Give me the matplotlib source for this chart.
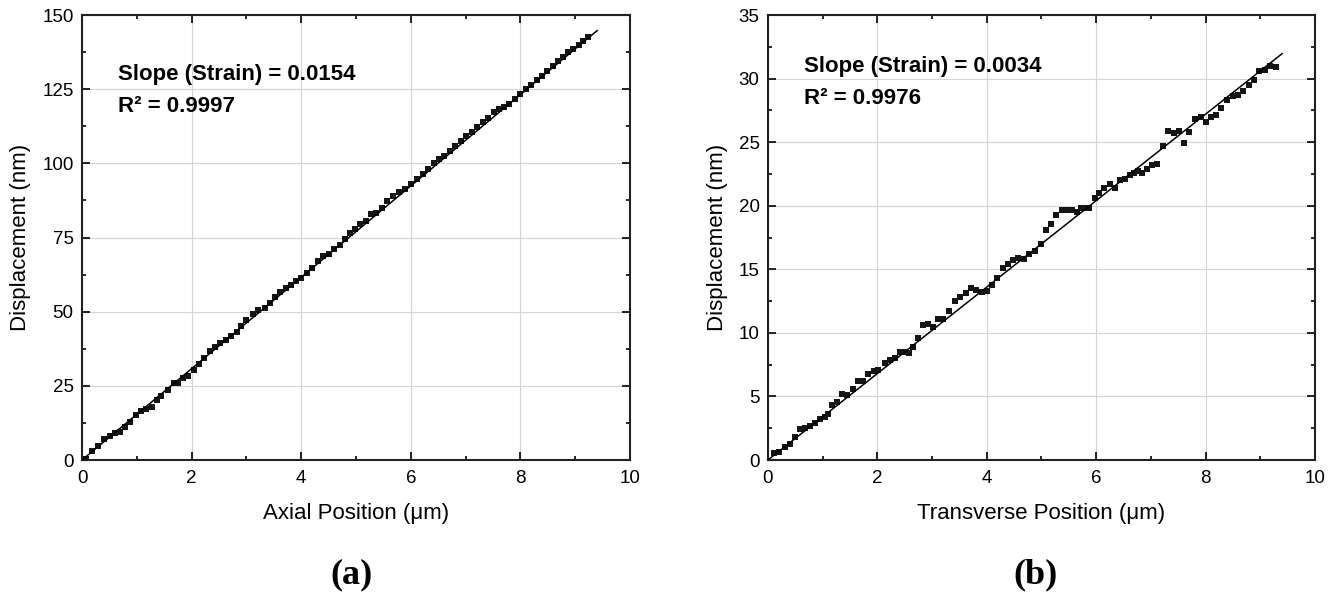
import matplotlib.pyplot as plt
from matplotlib.ticker import MultipleLocator

plt.rcParams['font.family'] = ['Liberation Sans', 'DejaVu Sans']

# (a) axial data
axial_x = [0.07, 0.19, 0.30, 0.41, 0.51, 0.60, 0.69, 0.79, 0.88, 0.99,
           1.08, 1.17, 1.27, 1.36, 1.45, 1.56, 1.67, 1.76, 1.85, 1.94,
           2.05, 2.14, 2.23, 2.34, 2.43, 2.52, 2.62, 2.72, 2.82, 2.91,
           3.00, 3.12, 3.22, 3.33, 3.43, 3.52, 3.61, 3.72, 3.81, 3.91,
           4.00, 4.10, 4.20, 4.30, 4.40, 4.50, 4.59, 4.70, 4.80, 4.89,
           4.98, 5.07, 5.18, 5.27, 5.36, 5.47, 5.57, 5.68, 5.79, 5.90,
           6.00, 6.11, 6.23, 6.32, 6.43, 6.52, 6.61, 6.72, 6.81, 6.91,
           7.01, 7.11, 7.20, 7.31, 7.40, 7.51, 7.61, 7.70, 7.80, 7.90,
           8.00, 8.10, 8.19, 8.30, 8.40, 8.49, 8.59, 8.69, 8.78, 8.87,
           8.96, 9.06, 9.15, 9.24]
axial_y = [0.5, 2.9, 4.8, 7.0, 8.1, 9.0, 9.5, 11.2, 12.9, 15.2,
           16.6, 17.1, 17.8, 20.2, 21.6, 23.6, 26.1, 25.9, 27.5, 28.4,
           30.4, 32.4, 34.3, 36.6, 38.2, 39.6, 40.5, 41.8, 43.3, 45.2,
           47.2, 49.3, 50.6, 51.2, 52.9, 54.9, 56.5, 58.0, 59.1, 60.2,
           61.4, 63.0, 64.7, 67.0, 68.7, 69.5, 71.2, 72.5, 74.5, 76.5,
           77.9, 79.4, 80.5, 82.8, 83.4, 84.8, 87.4, 88.9, 90.5, 91.5,
           93.0, 94.7, 96.5, 98.2, 100.0, 101.5, 102.6, 104.3, 106.0, 107.6,
           109.2, 110.7, 112.2, 113.9, 115.4, 117.4, 118.4, 119.0, 120.1, 121.8,
           123.5, 125.0, 126.5, 128.0, 129.5, 131.0, 132.8, 134.4, 136.0, 137.6,
           138.7, 139.8, 141.3, 142.6]

# (b) transverse data
trans_x = [0.11, 0.20, 0.31, 0.40, 0.49, 0.59, 0.68, 0.77, 0.86, 0.95,
           1.04, 1.10, 1.18, 1.27, 1.36, 1.44, 1.56, 1.65, 1.74, 1.83,
           1.93, 2.02, 2.14, 2.23, 2.32, 2.41, 2.50, 2.58, 2.66, 2.75,
           2.84, 2.93, 3.02, 3.11, 3.20, 3.31, 3.42, 3.51, 3.62, 3.71,
           3.80, 3.91, 4.01, 4.10, 4.19, 4.29, 4.38, 4.48, 4.57, 4.68,
           4.77, 4.88, 4.99, 5.08, 5.18, 5.27, 5.37, 5.46, 5.56, 5.65,
           5.73, 5.82, 5.87, 5.97, 6.06, 6.15, 6.25, 6.34, 6.44, 6.53,
           6.62, 6.70, 6.76, 6.84, 6.93, 7.03, 7.12, 7.23, 7.32, 7.42,
           7.51, 7.61, 7.70, 7.81, 7.91, 8.01, 8.10, 8.20, 8.29, 8.39,
           8.50, 8.60, 8.69, 8.80, 8.89, 8.98, 9.09, 9.18, 9.29]
trans_y = [0.53, 0.66, 1.05, 1.24, 1.8, 2.4, 2.5, 2.7, 2.9, 3.2,
           3.4, 3.6, 4.3, 4.6, 5.2, 5.1, 5.6, 6.2, 6.2, 6.8,
           7.0, 7.1, 7.6, 7.9, 8.0, 8.5, 8.5, 8.4, 8.85, 9.6,
           10.65, 10.7, 10.5, 11.1, 11.1, 11.7, 12.5, 12.85, 13.15, 13.5,
           13.4, 13.25, 13.3, 13.8, 14.3, 15.1, 15.45, 15.7, 15.9, 15.8,
           16.2, 16.4, 17.0, 18.1, 18.6, 19.25, 19.7, 19.7, 19.7, 19.5,
           19.8, 19.8, 19.85, 20.6, 21.0, 21.4, 21.7, 21.4, 22.0, 22.1,
           22.4, 22.6, 22.75, 22.6, 22.9, 23.2, 23.3, 24.7, 25.9, 25.7,
           25.9, 24.9, 25.8, 26.8, 27.0, 26.6, 26.95, 27.15, 27.7, 28.3,
           28.6, 28.7, 29.0, 29.5, 29.9, 30.6, 30.7, 31.0, 30.9]

# fitted lines (nm per um) and the annotation texts
fit_slopes = [15.4, 3.4]
fit_x_end = 9.4
slope_texts = ['Slope (Strain) = 0.0154', 'Slope (Strain) = 0.0034']
r2_texts = ['R\u00b2 = 0.9997', 'R\u00b2 = 0.9976']
x_labels = ['Axial Position (\u03bcm)', 'Transverse Position (\u03bcm)']
y_limits = [150, 35]
y_steps = [25, 5]
panel_labels = ['(a)', '(b)']

fig = plt.figure(figsize=(13.4, 6.1), dpi=100)
ax_a = fig.add_axes([0.0612, 0.2459, 0.4090, 0.7295])
ax_b = fig.add_axes([0.5731, 0.2459, 0.4082, 0.7295])

datasets = [(axial_x, axial_y), (trans_x, trans_y)]
text_y = [(0.854, 0.782), (0.872, 0.800)]

for i, ax in enumerate([ax_a, ax_b]):
    xs, ys = datasets[i]
    ax.plot(xs, ys, 's', color='#151515', ms=3.8, mew=0, zorder=3)
    ax.plot([0, fit_x_end], [0, fit_slopes[i] * fit_x_end], color='black', lw=1.1, zorder=4)

    ax.set_xlim(0, 10)
    ax.set_ylim(0, y_limits[i])
    ax.xaxis.set_major_locator(MultipleLocator(2))
    ax.xaxis.set_minor_locator(MultipleLocator(1))
    ax.yaxis.set_major_locator(MultipleLocator(y_steps[i]))
    ax.yaxis.set_minor_locator(MultipleLocator(y_steps[i] / 2))
    ax.tick_params(which='both', direction='in', top=True, right=True, labelsize=13.5, width=1.2)
    ax.tick_params(which='major', length=6)
    ax.tick_params(which='minor', length=3)
    ax.tick_params(axis='x', pad=7)
    ax.tick_params(axis='y', pad=6)
    ax.grid(True, which='major', color='#d4d4d4', lw=0.8)
    for sp in ax.spines.values():
        sp.set_linewidth(1.5)
        sp.set_color('#222222')

    ax.set_xlabel(x_labels[i], fontsize=16, labelpad=12)
    ax.set_ylabel('Displacement (nm)', fontsize=16, labelpad=8)

    ax.text(0.066, text_y[i][0], slope_texts[i], transform=ax.transAxes,
            fontsize=16, fontweight='bold', va='baseline', ha='left')
    ax.text(0.066, text_y[i][1], r2_texts[i], transform=ax.transAxes,
            fontsize=16, fontweight='bold', va='baseline', ha='left')

fig.text(0.262, 0.057, panel_labels[0], fontsize=26, fontweight='bold',
         family='Liberation Serif', ha='center', va='center')
fig.text(0.773, 0.057, panel_labels[1], fontsize=26, fontweight='bold',
         family='Liberation Serif', ha='center', va='center')

fig.savefig('out.png', dpi=100)
